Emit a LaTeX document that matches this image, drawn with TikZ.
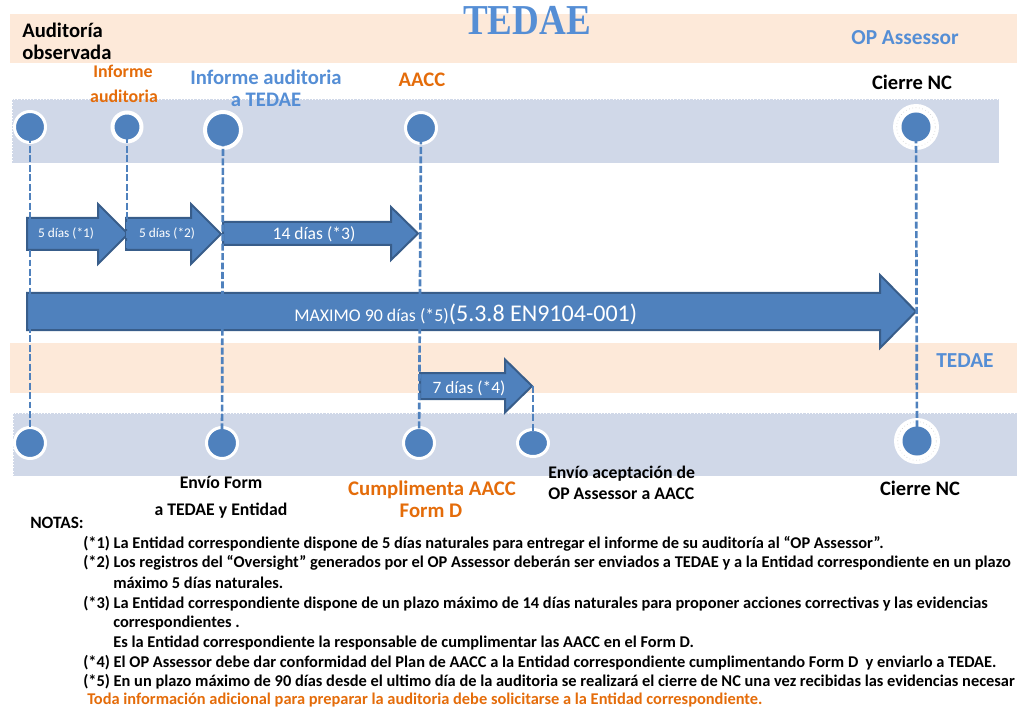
\documentclass[tikz,border=0pt]{standalone}
\usepackage{fontspec}
\usetikzlibrary{shapes.geometric}
\setmainfont{Carlito}
\newfontfamily\titlefont{Liberation Serif}
\definecolor{peach}{HTML}{FDE9D9}
\definecolor{bandblue}{HTML}{D0D8E8}
\definecolor{ablue}{HTML}{4F81BD}
\definecolor{adark}{HTML}{385D8A}
\definecolor{tblue}{HTML}{558ED5}
\definecolor{torange}{HTML}{E46C0A}
\newcommand\setfs[1]{\fontsize{#1}{#1}\selectfont}
\newcommand\blockarrow[6]{%
  \draw[barrow] (#1,#3-#4) -- (#6,#3-#4) -- (#6,#3-#5) -- (#2,#3) -- (#6,#3+#5) -- (#6,#3+#4) -- (#1,#3+#4) -- cycle;}
\tikzset{
  barrow/.style={fill=ablue, draw=adark, line width=1.5pt, line join=miter},
  dot/.style={circle, fill=ablue, draw=white, line width=2.25pt, inner sep=0pt, minimum size=23.25pt},
  ring/.style={circle, fill=white, inner sep=0pt, minimum size=34.5pt},
  ringline/.style={circle, draw=black!18, line width=0.5pt, dotted, inner sep=0pt, minimum size=29pt},
  innerdot/.style={circle, fill=ablue, inner sep=0pt, minimum size=21.75pt},
  dline/.style={ablue, line width=2pt, dash pattern=on 5.2pt off 1.9pt},
  lab/.style={inner sep=0pt, anchor=base, font=\bfseries},
  wlab/.style={inner sep=0pt, anchor=base, text=white},
  note/.style={inner sep=0pt, anchor=base west, font=\bfseries\setfs{12.3}},
  bandline/.style={draw=white, line width=0.4pt, dotted}
}
\begin{document}
\begin{tikzpicture}[x=0.75pt,y=-0.75pt]
\useasboundingbox (0,0) rectangle (1017,709);
% bands
\fill[peach] (10,14) rectangle (1017,63);
\filldraw[fill=bandblue, bandline] (12,99) rectangle (999,163);
\fill[peach] (10,343) rectangle (1017,393);
\filldraw[fill=bandblue, bandline] (13,413) rectangle (1017,476);

% title and lane labels
\node[lab, text=tblue, font=\titlefont\bfseries\setfs{27.8}] (title) at (527,35) {\scalebox{1}[1.15]{TEDAE}};
\node[lab, anchor=base west, font=\bfseries\setfs{15.5}] (aud1) at (22,38) {Auditoría};
\node[lab, anchor=base west, font=\bfseries\setfs{15.5}] (aud2) at (22,60) {observada};
\node[lab, text=tblue, font=\bfseries\setfs{16}] (opa) at (905,45) {OP Assessor};
\node[lab, text=torange, font=\bfseries\setfs{13.4}] (inf1) at (123,78) {Informe};
\node[lab, text=torange, font=\bfseries\setfs{13.4}] (inf2) at (124,103) {auditoria};
\node[lab, text=tblue, font=\bfseries\setfs{15.5}] (it1) at (266,85) {Informe auditoria};
\node[lab, text=tblue, font=\bfseries\setfs{15.5}] (it2) at (266,107) {a TEDAE};
\node[lab, text=torange, font=\bfseries\setfs{15.5}] (aacc) at (422,87) {AACC};
\node[lab, font=\bfseries\setfs{15.4}] (cnc1) at (912,90) {Cierre NC};
\node[lab, text=tblue, font=\bfseries\setfs{16}] (tedae2) at (965,367) {TEDAE};

% arrows
\blockarrow{27}{128}{234}{16}{30}{98}
\blockarrow{126}{221}{234}{16}{30}{191}
\blockarrow{223}{418}{233.5}{11.5}{26.5}{391}
\blockarrow{27}{916}{311.5}{18.5}{36.5}{880}
\blockarrow{420}{532}{386}{13}{26.5}{505}
\node[wlab, font=\setfs{10}] (a1) at (66,238) {5 días (*1)};
\node[wlab, font=\setfs{10}] (a2) at (167,238) {5 días (*2)};
\node[wlab, font=\setfs{13.2}] (a3) at (314,240) {14 días (*3)};
\node[wlab, anchor=base west] (a5) at (294,321) {{\setfs{13.4}MAXIMO 90 días (*5)}{\setfs{18}(5.3.8 EN9104-001)}};
\node[wlab, font=\setfs{13}] (a4) at (469,393) {7 días (*4)};

% top circles
\node[dot] (c1t) at (30,127) {};
\node[dot, line width=3pt, minimum size=21.75pt] (c2t) at (127,127) {};
\node[dot, line width=3pt, minimum size=27pt] (c3t) at (223,130) {};
\node[dot] (c4t) at (421,128) {};
\node[ring] (r5t) at (916,127) {};
\node[ringline] at (916,127) {};
\node[innerdot] (c5t) at (916,127) {};
% bottom circles
\node[dot] (c1b) at (30,443) {};
\node[dot] (c2b) at (222,443) {};
\node[dot] (c3b) at (419,443) {};
\node[dot, ellipse, minimum width=23.25pt, minimum height=20.25pt] (c4b) at (533,443) {};
\node[ring] (r5b) at (917,441) {};
\node[ringline] at (917,441) {};
\node[innerdot] (c5b) at (917,441) {};

% dashed connectors
\coordinate (e2) at (127,250);
\coordinate (s4) at (533,386);
\draw[dline] (c1t.center) -- (c1b.center);
\draw[dline] (c2t.center) -- (e2);
\draw[dline] (c3t.center) -- (c2b.center);
\draw[dline] (c4t.center) -- (c3b.center);
\draw[dline] (c5t.center) -- (c5b.center);
\draw[dline] (s4) -- (c4b.center);

% bottom labels
\node[lab, font=\bfseries\setfs{13.3}] (env1) at (221,488) {Envío Form};
\node[lab, font=\bfseries\setfs{13.3}] (env2) at (221,515) {a TEDAE y Entidad};
\node[lab, text=torange, font=\bfseries\setfs{15.6}] (cum1) at (432,495) {Cumplimenta AACC};
\node[lab, text=torange, font=\bfseries\setfs{15.6}] (cum2) at (431,517) {Form D};
\node[lab, anchor=base west, font=\bfseries\setfs{13.3}] (ea1) at (548,478) {Envío aceptación de};
\node[lab, anchor=base west, font=\bfseries\setfs{13.3}] (ea2) at (548,499) {OP Assessor a AACC};
\node[lab, font=\bfseries\setfs{15.4}] (cnc2) at (920,495) {Cierre NC};

% notes
\node[note, font=\bfseries\setfs{13}] (notas) at (30,528) {NOTAS:};
\node[note] (n1) at (83,548) {(*1) La Entidad correspondiente dispone de 5 días naturales para entregar el informe de su auditoría al “OP Assessor”.};
\node[note] (n2) at (83,567) {(*2) Los registros del “Oversight” generados por el OP Assessor deberán ser enviados a TEDAE y a la Entidad correspondiente en un plazo};
\node[note] (n2b) at (113,588) {máximo 5 días naturales.};
\node[note] (n3) at (83,608) {(*3) La Entidad correspondiente dispone de un plazo máximo de 14 días naturales para proponer acciones correctivas y las evidencias};
\node[note] (n3b) at (113,627) {correspondientes .};
\node[note] (n3c) at (113,647) {Es la Entidad correspondiente la responsable de cumplimentar las AACC en el Form D.};
\node[note] (n4) at (83,667) {(*4) El OP Assessor debe dar conformidad del Plan de AACC a la Entidad correspondiente cumplimentando Form D\ \ y enviarlo a TEDAE.};
\node[note] (n5) at (83,686) {(*5) En un plazo máximo de 90 días desde el ultimo día de la auditoria se realizará el cierre de NC una vez recibidas las evidencias necesar};
\node[note, text=torange] (n6) at (87,704) {Toda información adicional para preparar la auditoria debe solicitarse a la Entidad correspondiente.};
\end{tikzpicture}
\end{document}
